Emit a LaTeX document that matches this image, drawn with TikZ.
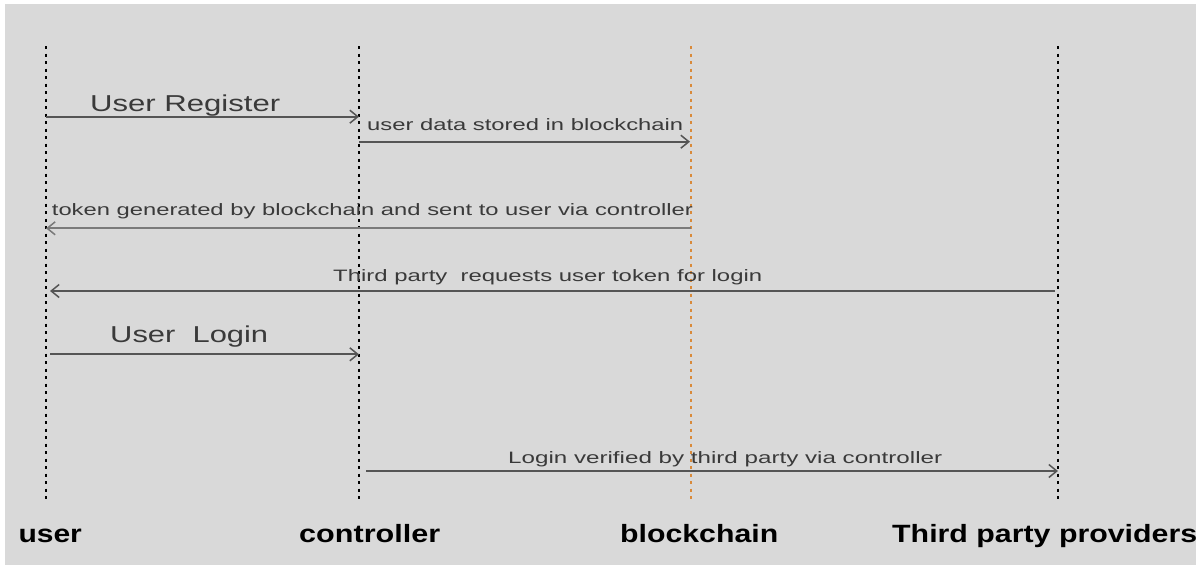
\documentclass[tikz,border=0pt]{standalone}
\usepackage{fontspec}
\setmainfont{Liberation Sans}
\usetikzlibrary{arrows.meta}
\definecolor{bg}{HTML}{D9D9D9}
\definecolor{orng}{HTML}{D98A3A}
\definecolor{msg}{HTML}{555555}
\definecolor{msglight}{HTML}{7A7A7A}
\definecolor{txt}{HTML}{3A3A3A}
\newcommand{\wfit}[2]{\resizebox{#1}{\height}{#2}}
\begin{document}
\begin{tikzpicture}[x=1pt,y=-1pt,
  lifeline/.style={line width=2pt, dash pattern=on 3pt off 4.5pt},
  msgline/.style={draw=msg, line width=2pt, -{Straight Barb[length=8pt,width=13pt,line width=1.5pt]}},
  biglabel/.style={inner sep=0pt, anchor=base west, text=txt, font=\fontsize{23}{26}\selectfont},
  smalllabel/.style={inner sep=0pt, anchor=base west, text=txt, font=\fontsize{16.5}{19}\selectfont},
  actor/.style={inner sep=0pt, anchor=base west, text=black, font=\fontsize{25}{28}\selectfont\bfseries}]
\useasboundingbox (0,0) rectangle (1196,565);
\clip (0,0) rectangle (1196,565);
\fill[white] (0,0) rectangle (1196,565);
\fill[bg] (5,4) rectangle (1196,565);

% lifelines
\coordinate (uT) at (46,46);   \coordinate (uB) at (46,502);
\coordinate (cT) at (359,46);  \coordinate (cB) at (359,502);
\coordinate (bT) at (691,46);  \coordinate (bB) at (691,502);
\coordinate (tT) at (1058,46); \coordinate (tB) at (1058,502);
\draw[lifeline, black] (uT) -- (uB);
\draw[lifeline, black] (cT) -- (cB);
\draw[lifeline, orng] (bT) -- (bB);
\draw[lifeline, black] (tT) -- (tB);

% message end points
\coordinate (m1s) at (46,116.7);  \coordinate (m1e) at (359,116.7);
\coordinate (m2s) at (359,141.7); \coordinate (m2e) at (690,141.7);
\coordinate (m3s) at (691,228.3); \coordinate (m3e) at (46,228.3);
\coordinate (m4s) at (1055,291);  \coordinate (m4e) at (50,291);
\coordinate (m5s) at (50,354.3);  \coordinate (m5e) at (359,354.3);
\coordinate (m6s) at (366,471);   \coordinate (m6e) at (1058,471);

\draw[msgline] (m1s) -- (m1e);
\draw[msgline] (m2s) -- (m2e);
\draw[msgline, draw=msglight, line width=1.8pt] (m3s) -- (m3e);
\draw[msgline] (m4s) -- (m4e);
\draw[msgline] (m5s) -- (m5e);
\draw[msgline] (m6s) -- (m6e);

% labels
\node[biglabel] (l1) at (90,111) {\wfit{190pt}{User Register}};
\node[smalllabel] (l2) at (367,130.7) {\wfit{316pt}{user data stored in blockchain}};
\node[smalllabel] (l3) at (51.7,215) {\wfit{641pt}{token generated by blockchain and sent to user via controller}};
\node[smalllabel] (l4) at (333,281.7) {\wfit{429pt}{Third party\ \ requests user token for login}};
\node[biglabel] (l5) at (110,342.7) {\wfit{158pt}{User\ \ Login}};
\node[smalllabel] (l6) at (508,463.3) {\wfit{434pt}{Login verified by third party via controller}};

% actors
\node[actor] (au) at (18.3,542.5) {\wfit{63.4pt}{user}};
\node[actor] (ac) at (299,542.5) {\wfit{141pt}{controller}};
\node[actor] (ab) at (620,542.5) {\wfit{158pt}{blockchain}};
\node[actor] (at) at (892,542.5) {\wfit{305pt}{Third party providers}};
\end{tikzpicture}
\end{document}
